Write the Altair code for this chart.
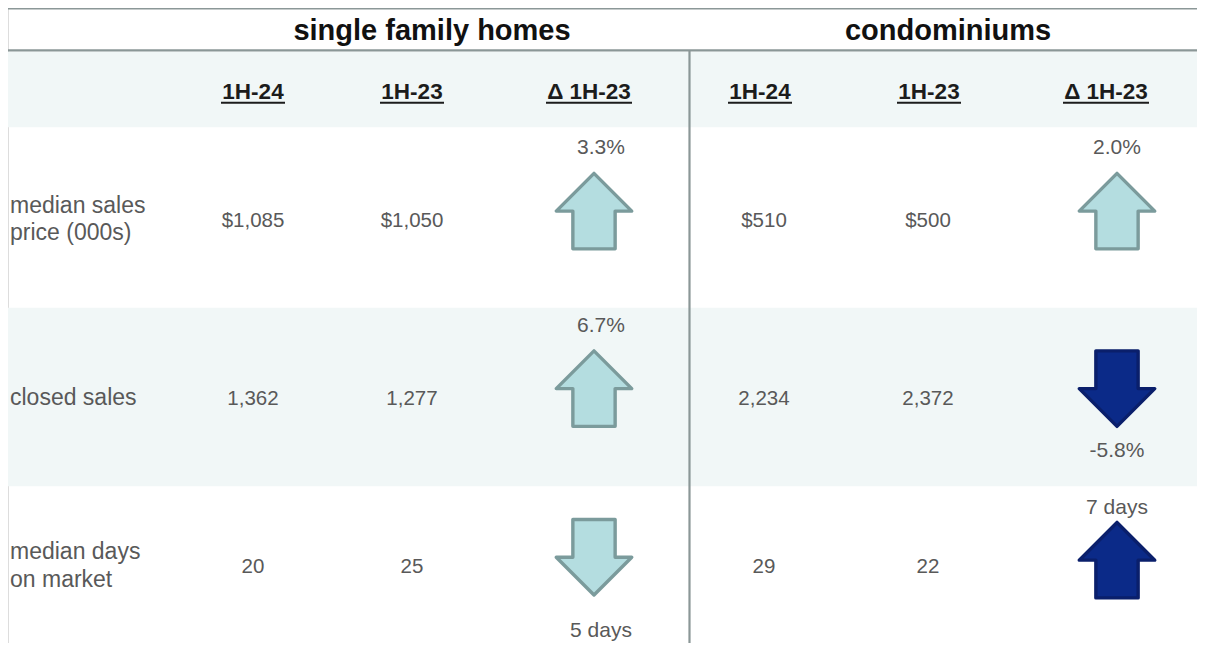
import altair as alt
import pandas as pd

# ---------------- data ----------------
section_titles = ["single family homes", "condominiums"]
column_headers = ["1H-24", "1H-23", "\u0394 1H-23"]
row_labels = ["median sales\nprice (000s)", "closed sales", "median days\non market"]

sf_1h24 = ["$1,085", "1,362", "20"]
sf_1h23 = ["$1,050", "1,277", "25"]
sf_delta = ["3.3%", "6.7%", "5 days"]
sf_direction = ["up", "up", "down"]
sf_tone = ["light", "light", "light"]

condo_1h24 = ["$510", "2,234", "29"]
condo_1h23 = ["$500", "2,372", "22"]
condo_delta = ["2.0%", "-5.8%", "7 days"]
condo_direction = ["up", "down", "up"]
condo_tone = ["light", "dark", "dark"]

# ---------------- layout (reference pixel space) ----------------
X0, X1 = 8, 1197
Y0, Y1 = 4, 648
W, H = 1189, 635

section_x = [432, 948]
header_x = [[253, 412, 589], [760, 929, 1106]]
header_half = [32, 32, 43]
value_x = [[253, 412], [764, 928]]
arrow_x = [594, 1117]
dlabel_x = [601, 1117]
row_base = [226, 407, 577]
label_base = [[212, 239], [407], [563, 591]]
arrow_y = [[210, 390, 561], [210, 390, 564]]
delta_base = [[152, 333, 642], [152, 459, 517]]

TEXT = "#595959"
DARK = "#1c1c1c"
LINE = "#8b9797"
BAND = "#f1f7f7"
FONT = "Liberation Sans"

xs = alt.Scale(domain=[X0, X1], nice=False, zero=False)
ys = alt.Scale(domain=[Y0, Y1], nice=False, zero=False, reverse=True)


def X(f):
    return alt.X(f, type="quantitative", scale=xs, axis=None)


def Y(f):
    return alt.Y(f, type="quantitative", scale=ys, axis=None)


# background bands
bands = pd.DataFrame({"x": [X0, X0], "x2": [X1, X1], "y": [48, 308], "y2": [125, 489]})
band_layer = alt.Chart(bands).mark_rect(color=BAND).encode(
    x=X("x"), x2="x2", y=Y("y"), y2="y2"
)

# horizontal and vertical rules
hrules = pd.DataFrame({"x": [X0, X0], "x2": [X1, X1], "y": [4.5, 47]})
hrule_layer = alt.Chart(hrules).mark_rule(color=LINE, strokeWidth=2.2).encode(
    x=X("x"), x2="x2", y=Y("y")
)
vrules = pd.DataFrame({"x": [689.5], "y": [47], "y2": [Y1]})
vrule_layer = alt.Chart(vrules).mark_rule(color=LINE, strokeWidth=2.2).encode(
    x=X("x"), y=Y("y"), y2="y2"
)

# section titles
titles = pd.DataFrame({"t": section_titles, "x": section_x, "y": [36, 36]})
title_layer = alt.Chart(titles).mark_text(
    font=FONT, fontSize=29, fontWeight="bold", color="#111111", baseline="alphabetic"
).encode(x=X("x"), y=Y("y"), text="t:N")

# column headers + underlines
hdr_rows = []
for s in range(2):
    for c in range(3):
        hx = header_x[s][c]
        hdr_rows.append({"t": column_headers[c], "x": hx, "y": 96,
                         "ux": hx - header_half[c], "ux2": hx + header_half[c], "uy": 100})
hdr = pd.DataFrame(hdr_rows)
hdr_layer = alt.Chart(hdr).mark_text(
    font=FONT, fontSize=22.5, fontWeight="bold", color=DARK, baseline="alphabetic"
).encode(x=X("x"), y=Y("y"), text="t:N")
underline_layer = alt.Chart(hdr).mark_rule(color=DARK, strokeWidth=2).encode(
    x=X("ux"), x2="ux2", y=Y("uy")
)

# row labels
lab_rows = []
for r, lab in enumerate(row_labels):
    for i, line in enumerate(lab.split("\n")):
        lab_rows.append({"t": line, "x": 10, "y": label_base[r][i]})
labs = pd.DataFrame(lab_rows)
lab_layer = alt.Chart(labs).mark_text(
    font=FONT, fontSize=23, color=TEXT, align="left", baseline="alphabetic"
).encode(x=X("x"), y=Y("y"), text="t:N")

# values
val_rows = []
for s, (a, b) in enumerate([(sf_1h24, sf_1h23), (condo_1h24, condo_1h23)]):
    for r in range(3):
        val_rows.append({"t": a[r], "x": value_x[s][0], "y": row_base[r]})
        val_rows.append({"t": b[r], "x": value_x[s][1], "y": row_base[r]})
vals = pd.DataFrame(val_rows)
val_layer = alt.Chart(vals).mark_text(
    font=FONT, fontSize=20.5, color=TEXT, baseline="alphabetic"
).encode(x=X("x"), y=Y("y"), text="t:N")

# delta labels and arrows
d_rows = []
for s, (dl, dd, dt) in enumerate([(sf_delta, sf_direction, sf_tone),
                                  (condo_delta, condo_direction, condo_tone)]):
    for r in range(3):
        d_rows.append({"t": dl[r], "dir": dd[r], "tone": dt[r],
                       "ax": arrow_x[s], "tx": dlabel_x[s],
                       "ay": arrow_y[s][r], "ty": delta_base[s][r]})
deltas = pd.DataFrame(d_rows)
dlab_layer = alt.Chart(deltas).mark_text(
    font=FONT, fontSize=21, color=TEXT, baseline="alphabetic"
).encode(x=X("tx"), y=Y("ty"), text="t:N")

UP = "M0,-1L1,0L0.56,0L0.56,1L-0.56,1L-0.56,0L-1,0Z"
DOWN = "M0,1L1,0L0.56,0L0.56,-1L-0.56,-1L-0.56,0L-1,0Z"
arrow_layer = alt.Chart(deltas).mark_point(
    filled=True, opacity=1, fillOpacity=1, strokeOpacity=1, strokeWidth=3.4, strokeJoin="round", size=5700
).encode(
    x=X("ax"), y=Y("ay"),
    shape=alt.Shape("dir:N", scale=alt.Scale(domain=["up", "down"], range=[UP, DOWN]), legend=None),
    fill=alt.Fill("tone:N", scale=alt.Scale(domain=["light", "dark"], range=["#b4dde0", "#0b2a88"]), legend=None),
    stroke=alt.Stroke("tone:N", scale=alt.Scale(domain=["light", "dark"], range=["#7b9b9c", "#0a1f6b"]), legend=None),
)

chart = alt.layer(
    band_layer, hrule_layer, vrule_layer, title_layer, hdr_layer, underline_layer,
    lab_layer, val_layer, arrow_layer, dlab_layer
).properties(
    width=W, height=H, padding=0, autosize=alt.AutoSizeParams(type="none")
).configure_view(stroke=None).configure(background="white")

chart.save("out.html", embed_options={"renderer": "svg", "actions": False})
